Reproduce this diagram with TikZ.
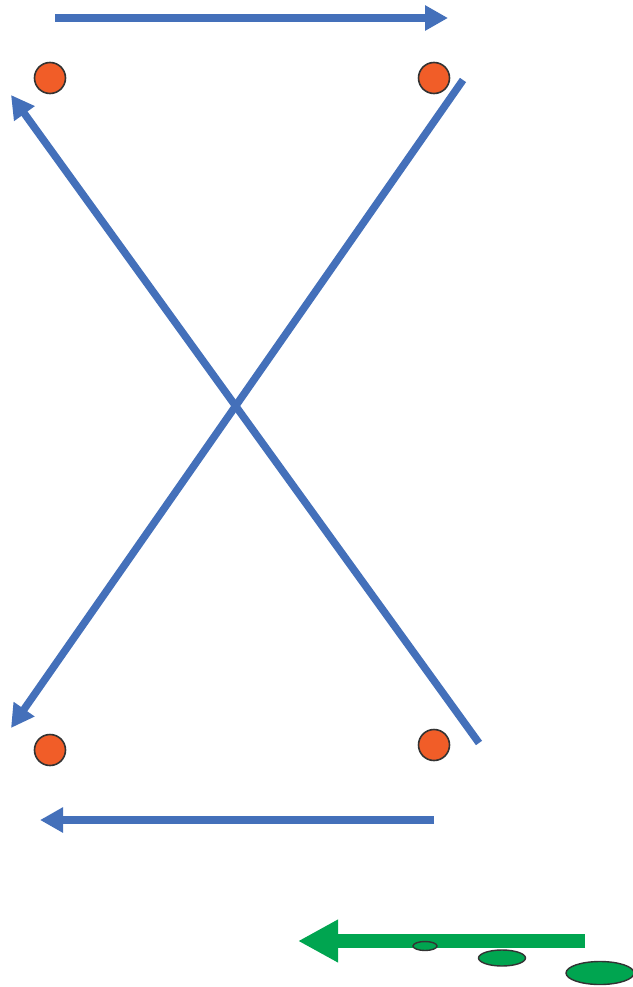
\documentclass[tikz,border=0pt]{standalone}
\usetikzlibrary{arrows.meta,shapes.geometric}
\definecolor{arrowblue}{HTML}{4470BA}
\definecolor{dotorange}{HTML}{F15D28}
\definecolor{arrowgreen}{HTML}{00A550}
\definecolor{edgegray}{HTML}{333333}
\begin{document}
\begin{tikzpicture}[x=1pt,y=-1pt,
  dot/.style={circle,draw=edgegray,line width=1.6pt,fill=dotorange,minimum size=31pt,inner sep=0pt},
  bluearrow/.style={draw=arrowblue,line width=7.5pt,-{Triangle[length=23pt,width=24pt]}},
  greenarrow/.style={draw=arrowgreen,line width=13.5pt,-{Triangle[length=40pt,width=40pt]}},
  blob/.style={ellipse,draw=edgegray,line width=1.4pt,fill=arrowgreen,inner sep=0pt}]
\useasboundingbox (0,0) rectangle (632,987);
% dots
\node[dot] (tl) at (50,78) {};
\node[dot] (tr) at (434,78) {};
\node[dot] (bl) at (50,750) {};
\node[dot] (br) at (434,745) {};
% arrow endpoints
\coordinate (topS) at (55,18);
\coordinate (topE) at (448,18);
\coordinate (d1S) at (463,80);
\coordinate (d1E) at (11,728);
\coordinate (d2S) at (479,743);
\coordinate (d2E) at (11,95);
\coordinate (botS) at (434,820);
\coordinate (botE) at (40,820);
\coordinate (grS) at (585,941);
\coordinate (grE) at (298,941);
% arrows
\draw[bluearrow] (topS) -- (topE);
\draw[bluearrow] (d1S) -- (d1E);
\draw[bluearrow] (d2S) -- (d2E);
\draw[bluearrow] (botS) -- (botE);
\draw[greenarrow] (grS) -- (grE);
% ellipses
\node[blob,minimum width=24pt,minimum height=9pt] (e1) at (425,946) {};
\node[blob,minimum width=47pt,minimum height=16pt] (e2) at (502,958) {};
\node[blob,minimum width=68pt,minimum height=23pt] (e3) at (600,973) {};
\end{tikzpicture}
\end{document}
